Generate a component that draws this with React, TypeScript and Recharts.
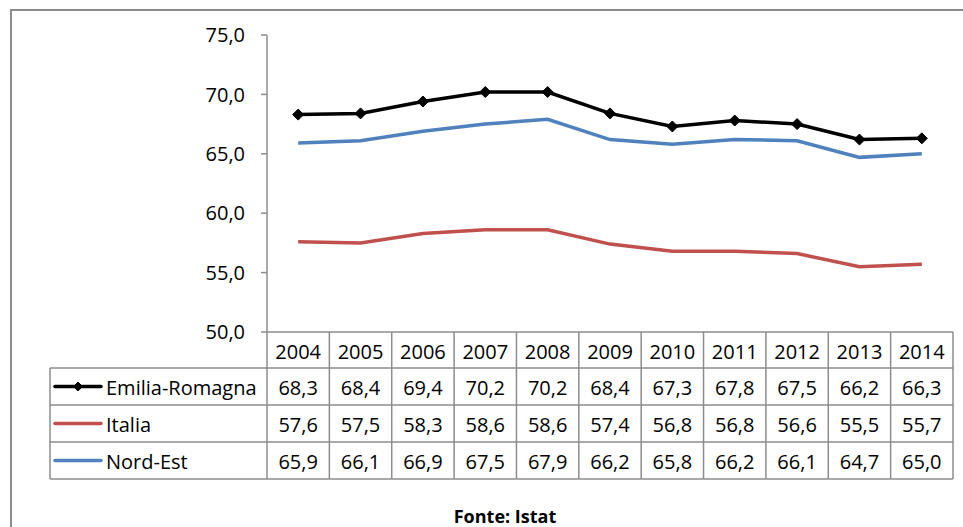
import React from 'react';
import { LineChart, Line, XAxis, YAxis } from 'recharts';

const YEARS = ['2004', '2005', '2006', '2007', '2008', '2009', '2010', '2011', '2012', '2013', '2014'];
const EMILIA = [68.3, 68.4, 69.4, 70.2, 70.2, 68.4, 67.3, 67.8, 67.5, 66.2, 66.3];
const ITALIA = [57.6, 57.5, 58.3, 58.6, 58.6, 57.4, 56.8, 56.8, 56.6, 55.5, 55.7];
const NORDEST = [65.9, 66.1, 66.9, 67.5, 67.9, 66.2, 65.8, 66.2, 66.1, 64.7, 65.0];
const Y_TICKS = [50, 55, 60, 65, 70, 75];
const SERIES = [
  { key: 'emilia', name: 'Emilia-Romagna', values: EMILIA, color: '#000000', marker: true },
  { key: 'italia', name: 'Italia', values: ITALIA, color: '#C0504D', marker: false },
  { key: 'nordest', name: 'Nord-Est', values: NORDEST, color: '#4F81BD', marker: false },
];
const SOURCE = 'Fonte: Istat';

const data = YEARS.map((year, i) => {
  const row: any = { year };
  SERIES.forEach((s) => { row[s.key] = s.values[i]; });
  return row;
});

const FONT = '"Open Sans", sans-serif';
const FS = 20;
const GRID = '#8c8c8c';
const COL_W = 62.36;
const HEAD_H = 36;
const ROW_H = 37;
const LEG_LEFT = 50;

const fmt = (v: number) => v.toFixed(1).replace('.', ',');

const Diamond = ({ cx, cy, r = 5.5, color = '#000' }: any) => (
  <polygon points={`${cx},${cy - r} ${cx + r},${cy} ${cx},${cy + r} ${cx - r},${cy}`} fill={color} stroke={color} strokeWidth={1} />
);

const TableTick = (props: any) => {
  const { x, y, payload, index } = props;
  const top = y;
  const left = x - COL_W / 2;
  const right = x + COL_W / 2;
  const bottom = top + HEAD_H + ROW_H * SERIES.length;
  const els: any[] = [];
  els.push(
    <text key="h" x={x} y={top + HEAD_H / 2 + 1} textAnchor="middle" dominantBaseline="central" fontSize={FS} fill="#000" fontFamily={FONT}>
      {payload.value}
    </text>
  );
  SERIES.forEach((s, r) => {
    const rt = top + HEAD_H + ROW_H * r;
    els.push(<line key={`hl${r}`} x1={left} x2={right} y1={rt} y2={rt} stroke={GRID} strokeWidth={1.5} />);
    els.push(
      <text key={`v${r}`} x={x} y={rt + ROW_H / 2 + 1} textAnchor="middle" dominantBaseline="central" fontSize={FS} fill="#000" fontFamily={FONT}>
        {fmt(s.values[index])}
      </text>
    );
  });
  els.push(<line key="bl" x1={left} x2={right} y1={bottom} y2={bottom} stroke={GRID} strokeWidth={1.5} />);
  els.push(<line key="vr" x1={right} x2={right} y1={top} y2={bottom} stroke={GRID} strokeWidth={1.5} />);
  if (index === 0) {
    els.push(<line key="vl" x1={left} x2={left} y1={top} y2={bottom} stroke={GRID} strokeWidth={1.5} />);
    els.push(<line key="lv" x1={LEG_LEFT} x2={LEG_LEFT} y1={top + HEAD_H} y2={bottom} stroke={GRID} strokeWidth={1.5} />);
    SERIES.forEach((s, r) => {
      const rt = top + HEAD_H + ROW_H * r;
      const cy = rt + ROW_H / 2;
      els.push(<line key={`lh${r}`} x1={LEG_LEFT} x2={left} y1={rt} y2={rt} stroke={GRID} strokeWidth={1.5} />);
      els.push(<line key={`ls${r}`} x1={LEG_LEFT + 5} x2={LEG_LEFT + 51} y1={cy} y2={cy} stroke={s.color} strokeWidth={3.5} strokeLinecap="round" />);
      if (s.marker) els.push(<Diamond key={`lm${r}`} cx={LEG_LEFT + 28} cy={cy} r={4.5} color={s.color} />);
      els.push(
        <text key={`lt${r}`} x={LEG_LEFT + 56} y={cy + 1} textAnchor="start" dominantBaseline="central" fontSize={FS} fill="#000" fontFamily={FONT}>
          {s.name}
        </text>
      );
    });
    els.push(<line key="lb" x1={LEG_LEFT} x2={left} y1={bottom} y2={bottom} stroke={GRID} strokeWidth={1.5} />);
  }
  return <g>{els}</g>;
};

export default function App() {
  return (
    <div style={{ position: 'absolute', left: 0, top: 0, width: 963, height: 527, background: '#fff', overflow: 'hidden', fontFamily: FONT }}>
      <div style={{ position: 'absolute', left: 10, top: 9, width: 980, height: 540, borderTop: '2px solid #8c8c8c', borderLeft: '2px solid #8c8c8c' }} />
      <div style={{ position: 'absolute', left: 0, top: 0 }}>
        <LineChart width={963} height={527} data={data} margin={{ top: 35, right: 10, bottom: 0, left: 0 }} style={{ fontFamily: FONT }}>
          <XAxis
            dataKey="year"
            interval={0}
            padding={{ left: COL_W / 2, right: COL_W / 2 }}
            height={195}
            tickLine={false}
            tickSize={0}
            tickMargin={0}
            axisLine={{ stroke: GRID, strokeWidth: 1.5 }}
            tick={<TableTick />}
          />
          <YAxis
            width={267}
            domain={[50, 75]}
            ticks={Y_TICKS}
            interval={0}
            tickFormatter={fmt}
            tickSize={6}
            tickMargin={16}
            axisLine={{ stroke: GRID, strokeWidth: 1.5 }}
            tickLine={{ stroke: GRID, strokeWidth: 1.5 }}
            tick={{ fill: '#000', fontSize: FS, fontFamily: FONT }}
          />
          {SERIES.map((s) => (
            <Line
              key={s.key}
              dataKey={s.key}
              name={s.name}
              stroke={s.color}
              strokeWidth={3.5}
              isAnimationActive={false}
              dot={s.marker ? (p: any) => <Diamond key={p.index} cx={p.cx} cy={p.cy} r={5.5} color={s.color} /> : false}
              activeDot={false}
            />
          ))}
        </LineChart>
      </div>
      <div style={{ position: 'absolute', left: 0, width: 1010, top: 504, textAlign: 'center', fontWeight: 'bold', fontSize: 18, fontFamily: FONT, color: '#000', lineHeight: '24px' }}>
        {SOURCE}
      </div>
    </div>
  );
}
